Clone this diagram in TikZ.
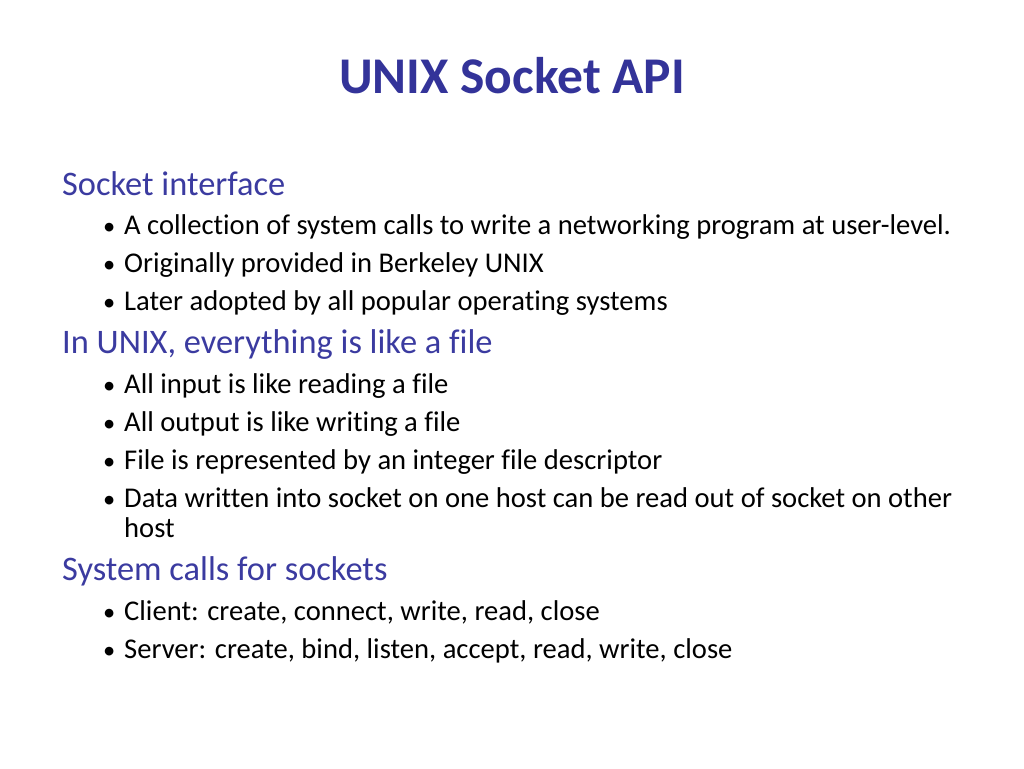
\documentclass[tikz,border=0pt]{standalone}
\usepackage{fontspec}
\setmainfont{Carlito}[Ligatures={NoCommon}]
\definecolor{ttl}{HTML}{333399}
\definecolor{hd}{HTML}{3B3BA0}
\begin{document}
\begin{tikzpicture}[x=1pt,y=-1pt,
  head/.style={anchor=base west,inner sep=0,text=hd,font=\fontsize{34.4}{34}\selectfont},
  item/.style={anchor=base west,inner sep=0,font=\fontsize{28.6}{30}\selectfont},
  bul/.style={anchor=base west,inner sep=0,font=\fontsize{24.5}{30}\selectfont}]
\useasboundingbox (0,0) rectangle (1024,768);
\node[anchor=base,inner sep=0,text=ttl,font=\fontsize{51.5}{52}\selectfont\bfseries] (title) at (512,93) {UNIX Socket API};
\node[head] (h1) at (62,195) {Socket interface};
\foreach \y/\t [count=\i] in {234/{A collection of system calls to write a networking program at user-level.},272/{Originally provided in Berkeley UNIX},310/{Later adopted by all popular operating systems}}{
  \node[bul] (b1\i) at (103,\y) {•};
  \node[item] (t1\i) at (124,\y) {\t};
}
\node[head] (h2) at (62,353) {In UNIX, everything is like a file};
\foreach \y/\t [count=\i] in {393/{All input is like reading a file},431/{All output is like writing a file},469/{File is represented by an integer file descriptor},507/{Data written into socket on one host can be read out of socket on other}}{
  \node[bul] (b2\i) at (103,\y) {•};
  \node[item] (t2\i) at (124,\y) {\t};
}
\node[item] (t25) at (124,537) {host};
\node[head] (h3) at (62,580) {System calls for sockets};
\foreach \y/\t [count=\i] in {620/{Client: create, connect, write, read, close},658/{Server: create, bind, listen, accept, read, write, close}}{
  \node[bul] (b3\i) at (103,\y) {•};
  \node[item] (t3\i) at (124,\y) {\t};
}
\end{tikzpicture}
\end{document}
